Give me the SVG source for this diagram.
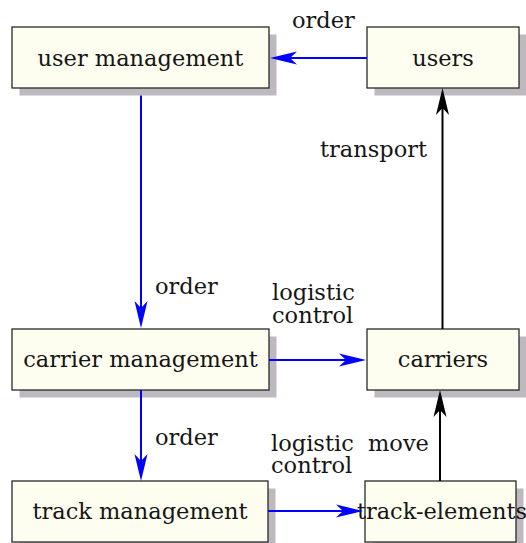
<svg xmlns="http://www.w3.org/2000/svg" width="526" height="543" viewBox="0 0 526 543">
<defs>
<style>
.shadow{fill:#bdb9be;}
.box{fill:#fefef0;stroke:#2a2a2a;stroke-width:1.3;}
.t{font-family:'DejaVu Serif',serif;font-size:22.5px;fill:#151515;}
.c{text-anchor:middle;}
.blue{stroke:#0000ff;stroke-width:2;fill:none;}
.black{stroke:#000;stroke-width:2;fill:none;}
</style>
<marker id="ab" viewBox="-28 -7 30 14" refX="-8" refY="0" markerWidth="30" markerHeight="14" markerUnits="userSpaceOnUse" orient="auto">
<path d="M0,0 L-27,-6.5 L-20,0 L-27,6.5 Z" fill="#0000ff"/>
</marker>
<marker id="ak" viewBox="-28 -7 30 14" refX="-8" refY="0" markerWidth="30" markerHeight="14" markerUnits="userSpaceOnUse" orient="auto">
<path d="M0,0 L-27,-6.5 L-20,0 L-27,6.5 Z" fill="#000"/>
</marker>
</defs>
<rect width="526" height="543" fill="#fff"/>
<g id="user-management">
<rect class="shadow" x="19.5" y="34.5" width="257" height="61"/>
<rect class="box" x="12" y="27" width="257" height="61"/>
<text class="t c" x="140.5" y="66">user management</text>
</g>
<g id="users">
<rect class="shadow" x="374.5" y="34.5" width="152" height="61"/>
<rect class="box" x="367" y="27" width="152" height="61"/>
<text class="t c" x="443" y="66">users</text>
</g>
<g id="carrier-management">
<rect class="shadow" x="19.5" y="336.5" width="257" height="61"/>
<rect class="box" x="12" y="329" width="257" height="61"/>
<text class="t c" x="140.5" y="367">carrier management</text>
</g>
<g id="carriers">
<rect class="shadow" x="374.5" y="336.5" width="152" height="61"/>
<rect class="box" x="367" y="329" width="152" height="61"/>
<text class="t c" x="443" y="367">carriers</text>
</g>
<g id="track-management">
<rect class="shadow" x="19.5" y="488.5" width="256" height="61"/>
<rect class="box" x="12" y="481" width="256" height="61"/>
<text class="t c" x="140" y="519">track management</text>
</g>
<g id="track-elements">
<rect class="shadow" x="372.5" y="488.5" width="151" height="61"/>
<rect class="box" x="365" y="481" width="151" height="61"/>
<text class="t c" x="442" y="519">track-elements</text>
</g>
<g id="connectors">
<path class="blue" d="M367,58 L278,58" marker-end="url(#ab)"/>
<path class="blue" d="M141,95.5 L141,320" marker-end="url(#ab)"/>
<path class="blue" d="M269,360 L358,360" marker-end="url(#ab)"/>
<path class="black" d="M442.5,329 L442.5,96" marker-end="url(#ak)"/>
<path class="blue" d="M141,390 L141,473" marker-end="url(#ab)"/>
<path class="blue" d="M268,511 L355,511" marker-end="url(#ab)"/>
<path class="black" d="M440,481 L440,398" marker-end="url(#ak)"/>
</g>
<g id="labels">
<text class="t" x="292" y="28">order</text>
<text class="t" x="320" y="157">transport</text>
<text class="t" x="155" y="294">order</text>
<text class="t" x="272" y="300">logistic</text>
<text class="t" x="272" y="323">control</text>
<text class="t" x="155" y="445">order</text>
<text class="t" x="271" y="451">logistic</text>
<text class="t" x="271" y="473">control</text>
<text class="t" x="368" y="451">move</text>
</g>
</svg>
